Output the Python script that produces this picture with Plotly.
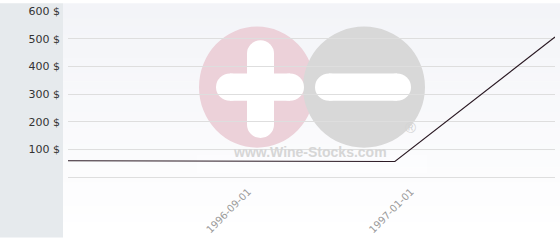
import plotly.graph_objects as go

# ---- data ----
dates = ["1996-05-01", "1997-01-01", "1997-05-01"]
prices = [59, 56, 506]
tick_dates = ["1996-09-01", "1997-01-01"]
y_ticks = [100, 200, 300, 400, 500, 600]
y_labels = [f"{v} $" for v in y_ticks]

W, H = 560, 240
ML, MR, MT, MB = 68, 5, 8, 62
PW, PH = W - ML - MR, H - MT - MB


def px(x):
    return (x - ML) / PW


def py(y):
    return (H - MB - y) / PH


shapes = []
# left panel
shapes.append(dict(type="rect", xref="paper", yref="paper", x0=px(0), x1=px(63),
                   y0=py(H), y1=py(0), fillcolor="#e6eaed", line_width=0, layer="below"))
# gradient background
n = 30
for i in range(n):
    t = i / (n - 1)
    c0 = (243, 244, 248)
    c = tuple(round(a + (255 - a) * t) for a in c0)
    y0 = i * H / n
    y1 = (i + 1) * H / n + 0.5
    shapes.append(dict(type="rect", xref="paper", yref="paper", x0=px(63), x1=px(W + 2),
                       y0=py(y1), y1=py(y0), fillcolor=f"rgb{c}", line_width=0, layer="below"))

pink = "#ecd1d9"
grey = "#d8d8d8"
# circles
shapes.append(dict(type="circle", xref="paper", yref="paper", x0=px(199), x1=px(315),
                   y0=py(148), y1=py(24), fillcolor=pink, line_width=0, layer="below"))
shapes.append(dict(type="circle", xref="paper", yref="paper", x0=px(303), x1=px(425),
                   y0=py(148), y1=py(24), fillcolor=grey, line_width=0, layer="below"))


def pill(x0, x1, y0, y1):
    out = []
    r = min(x1 - x0, y1 - y0) / 2
    if x1 - x0 >= y1 - y0:
        out.append(dict(type="rect", x0=x0 + r, x1=x1 - r, y0=y0, y1=y1))
        out.append(dict(type="circle", x0=x0, x1=x0 + 2 * r, y0=y0, y1=y1))
        out.append(dict(type="circle", x0=x1 - 2 * r, x1=x1, y0=y0, y1=y1))
    else:
        out.append(dict(type="rect", x0=x0, x1=x1, y0=y0 + r, y1=y1 - r))
        out.append(dict(type="circle", x0=x0, x1=x1, y0=y0, y1=y0 + 2 * r))
        out.append(dict(type="circle", x0=x0, x1=x1, y0=y1 - 2 * r, y1=y1))
    res = []
    for s in out:
        res.append(dict(type=s["type"], xref="paper", yref="paper",
                        x0=px(s["x0"]), x1=px(s["x1"]), y0=py(s["y1"]), y1=py(s["y0"]),
                        fillcolor="#ffffff", line_width=0, layer="below"))
    return res


shapes += pill(216, 304, 72, 100)   # plus horizontal
shapes += pill(247, 274, 38, 138)   # plus vertical
shapes += pill(315, 411, 72, 100)   # minus
# light box behind text
shapes.append(dict(type="rect", xref="paper", yref="paper", x0=px(197), x1=px(427),
                   y0=py(174), y1=py(155), fillcolor="rgba(255,255,255,0.35)", line_width=0,
                   layer="below"))

annotations = [
    dict(text="<b>www.Wine-Stocks.com</b>", xref="paper", yref="paper", x=px(310), y=py(163),
         showarrow=False, font=dict(family="Liberation Sans, Arial", size=14, color="#d6d6d6")),
    dict(text="®", xref="paper", yref="paper", x=px(418), y=py(138),
         showarrow=False, font=dict(family="Liberation Sans, Arial", size=15, color="#d4d4d4")),
]

fig = go.Figure()
fig.add_trace(go.Scatter(x=dates, y=prices, mode="lines",
                         line=dict(color="#2b1a24", width=1.1), hoverinfo="skip"))

fig.update_layout(
    width=W, height=H,
    margin=dict(l=ML, r=MR, t=MT, b=MB, pad=0),
    paper_bgcolor="#ffffff",
    plot_bgcolor="rgba(0,0,0,0)",
    showlegend=False,
    shapes=shapes,
    annotations=annotations,
    xaxis=dict(range=["1996-05-01", "1997-05-01"], tickvals=tick_dates, ticktext=tick_dates,
               tickangle=-45, showgrid=False, zeroline=False, showline=False, ticks="",
               ticklabelshift=16, ticklabelstandoff=6,
               tickfont=dict(family="DejaVu Sans", size=10, color="#9a9a9a")),
    yaxis=dict(range=[0, 600], tickvals=y_ticks, ticktext=y_labels, showgrid=True,
               gridcolor="#dedede", gridwidth=1, zeroline=True, zerolinecolor="#dedede",
               zerolinewidth=1, showline=False, ticks="", ticklabelstandoff=7,
               tickfont=dict(family="DejaVu Sans", size=11, color="#333333")),
)

fig.write_html("out.html")
